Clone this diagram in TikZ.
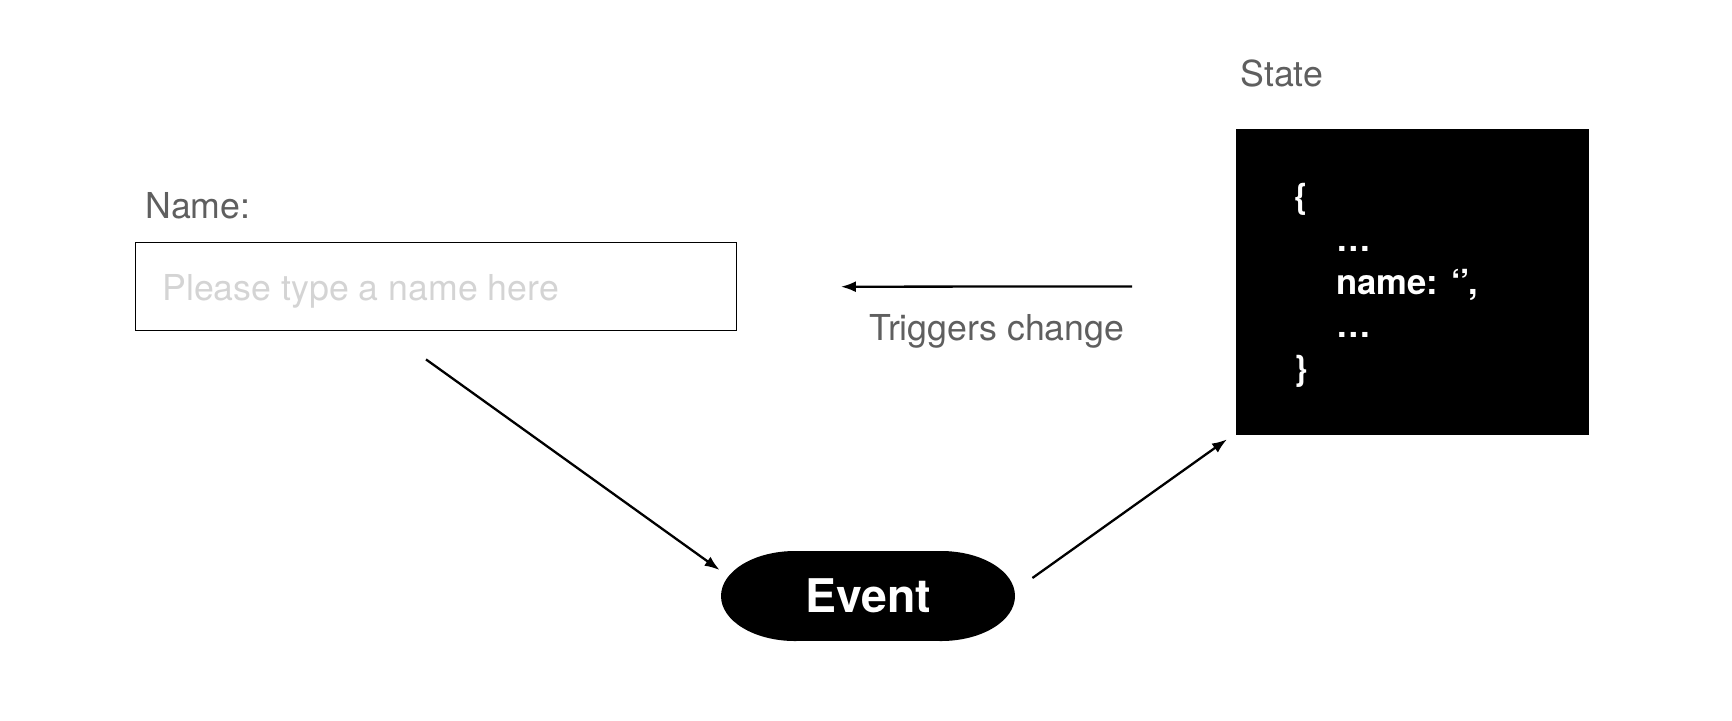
\documentclass[tikz,border=0pt]{standalone}
\usepackage{fontspec}
\setmainfont{TeX Gyre Heros}
\usetikzlibrary{arrows.meta,calc}
\definecolor{lbl}{HTML}{5F5F5F}
\definecolor{ph}{HTML}{D4D4D4}
\begin{document}
\begin{tikzpicture}[x=0.5pt,y=-0.5pt,
  lbltext/.style={text=lbl,font=\fontsize{17.85pt}{20pt}\selectfont,inner sep=0pt,anchor=base west},
  phtext/.style={lbltext,text=ph},
  codetext/.style={text=white,font=\bfseries\fontsize{17.3pt}{20pt}\selectfont,inner sep=0pt,anchor=base west},
  conn/.style={line width=1.15pt,-{Latex[length=7.5pt,width=5.5pt]}}]
\useasboundingbox (0,0) rectangle (1732,720);
% input box
\node[draw,line width=0.7pt,minimum width=300.5pt,minimum height=44pt,inner sep=0pt,anchor=north west] (input) at (135,242) {};
\node[lbltext] (namelbl) at (145,218) {Name:};
\node[phtext] (placeholder) at (162,300) {Please type a name here};
% state box
\node[fill=black,minimum width=176.25pt,minimum height=153pt,inner sep=0pt,anchor=north west] (state) at (1236,129) {};
\node[lbltext] (statelbl) at (1240,86) {State};
\node[codetext] (c1) at (1294,208) {\{};
\node[codetext] (c2) at (1336,251) {…};
\node[codetext] (c3) at (1336,294) {name: ‘{}',};
\node[codetext] (c4) at (1336,337) {…};
\node[codetext] (c5) at (1294,380) {\}};
% event
\node[minimum width=147pt,minimum height=45pt,inner sep=0pt] (event) at (868,596) {};
\fill[black] (795,596) ellipse [x radius=37pt,y radius=22.5pt];
\fill[black] (941,596) ellipse [x radius=37pt,y radius=22.5pt];
\fill[black] (795,551) rectangle (941,641);
\node[text=white,font=\bfseries\fontsize{23.2pt}{26pt}\selectfont,inner sep=0pt] (eventtxt) at (event.center) {Event};
% connectors
\coordinate (a1) at ($(input.south west)+(291,28)$);
\coordinate (a2) at ($(event.west)+(-1,-26)$);
\coordinate (b1) at ($(event.east)+(17,-18)$);
\coordinate (b2) at ($(state.south west)+(-9,3.5)$);
\coordinate (t1) at ($(state.west)+(-104,4)$);
\coordinate (t2) at ($(input.east)+(103.5,0)$);
\draw[conn] (a1) -- (a2);
\draw[conn] (b1) -- (b2);
\draw[conn] (t1) -- (t2);
\node[lbltext] (trig) at (869,340) {Triggers change};
\end{tikzpicture}
\end{document}
